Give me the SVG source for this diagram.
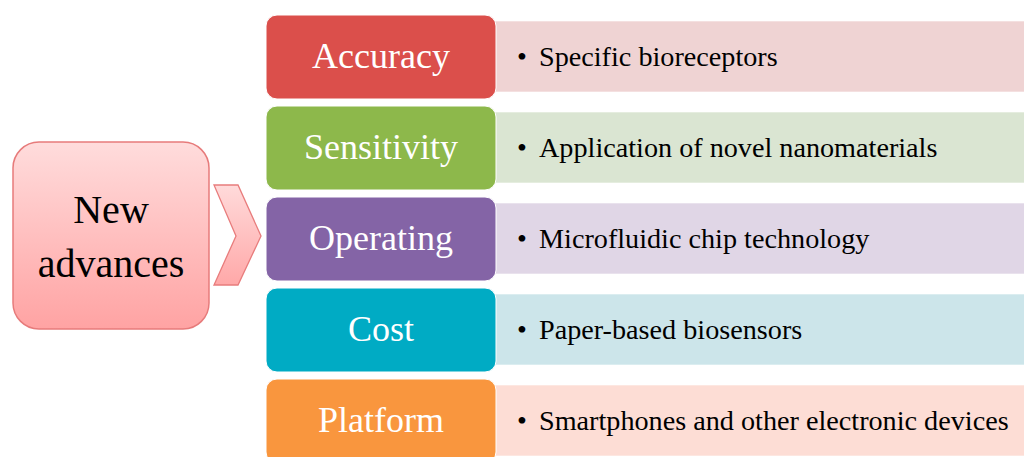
<svg xmlns="http://www.w3.org/2000/svg" width="1024" height="457" viewBox="0 0 1024 457">
<defs>
<linearGradient id="pinkG" x1="0" y1="0" x2="0" y2="1">
<stop offset="0" stop-color="#FFDCDC"/>
<stop offset="1" stop-color="#FFA3A3"/>
</linearGradient>
<linearGradient id="chevG" x1="0" y1="0" x2="0" y2="1">
<stop offset="0" stop-color="#FFDADA"/>
<stop offset="1" stop-color="#FFA8A8"/>
</linearGradient>
</defs>
<style>
.lbl{font-family:"Liberation Serif","Times New Roman",serif;font-size:36px;fill:#FFFFFF;text-anchor:middle}
.item{font-family:"Liberation Serif","Times New Roman",serif;font-size:28.2px;fill:#000000}
.main{font-family:"Liberation Serif","Times New Roman",serif;font-size:40px;fill:#000000;text-anchor:middle}
.panel{stroke:#FFFFFF;stroke-opacity:0.6;stroke-width:1}
.box{stroke:#FFFFFF;stroke-width:1}
</style>
<rect width="1024" height="457" fill="#FFFFFF"/>
<g id="new-advances">
<rect x="13" y="142" width="196" height="187" rx="26" fill="url(#pinkG)" stroke="#E77B7B" stroke-width="1.5"/>
<text class="main" x="111" y="223">New</text>
<text class="main" x="111" y="277">advances</text>
</g>
<g id="connectors">
<polygon points="214,185 238,185 261,236 238,285 214,285 236,236" fill="url(#chevG)" stroke="#E87C7C" stroke-width="1.3"/>
</g>
<g id="accuracy">
<rect class="panel" x="495" y="21" width="530" height="71" fill="#EFD3D3"/>
<rect class="box" x="266" y="15" width="230" height="84" rx="11" fill="#DB4F4B"/>
<text class="lbl" x="381" y="68">Accuracy</text>
<text class="item" x="517" y="66">•</text>
<text class="item" x="539" y="66">Specific bioreceptors</text>
</g>
<g id="sensitivity">
<rect class="panel" x="495" y="112" width="530" height="71" fill="#DAE5D2"/>
<rect class="box" x="266" y="106" width="230" height="84" rx="11" fill="#8DB84B"/>
<text class="lbl" x="381" y="159">Sensitivity</text>
<text class="item" x="517" y="157">•</text>
<text class="item" x="539" y="157">Application of novel nanomaterials</text>
</g>
<g id="operating">
<rect class="panel" x="495" y="203" width="530" height="71" fill="#E0D6E6"/>
<rect class="box" x="266" y="197" width="230" height="84" rx="11" fill="#8464A6"/>
<text class="lbl" x="381" y="250">Operating</text>
<text class="item" x="517" y="248">•</text>
<text class="item" x="539" y="248">Microfluidic chip technology</text>
</g>
<g id="cost">
<rect class="panel" x="495" y="294" width="530" height="71" fill="#CCE5EA"/>
<rect class="box" x="266" y="288" width="230" height="84" rx="11" fill="#00ABC4"/>
<text class="lbl" x="381" y="341">Cost</text>
<text class="item" x="517" y="339">•</text>
<text class="item" x="539" y="339">Paper-based biosensors</text>
</g>
<g id="platform">
<rect class="panel" x="495" y="385" width="530" height="71" fill="#FDDDD5"/>
<rect class="box" x="266" y="379" width="230" height="84" rx="11" fill="#F9963E"/>
<text class="lbl" x="381" y="432">Platform</text>
<text class="item" x="517" y="430">•</text>
<text class="item" x="539" y="430">Smartphones and other electronic devices</text>
</g>
</svg>
